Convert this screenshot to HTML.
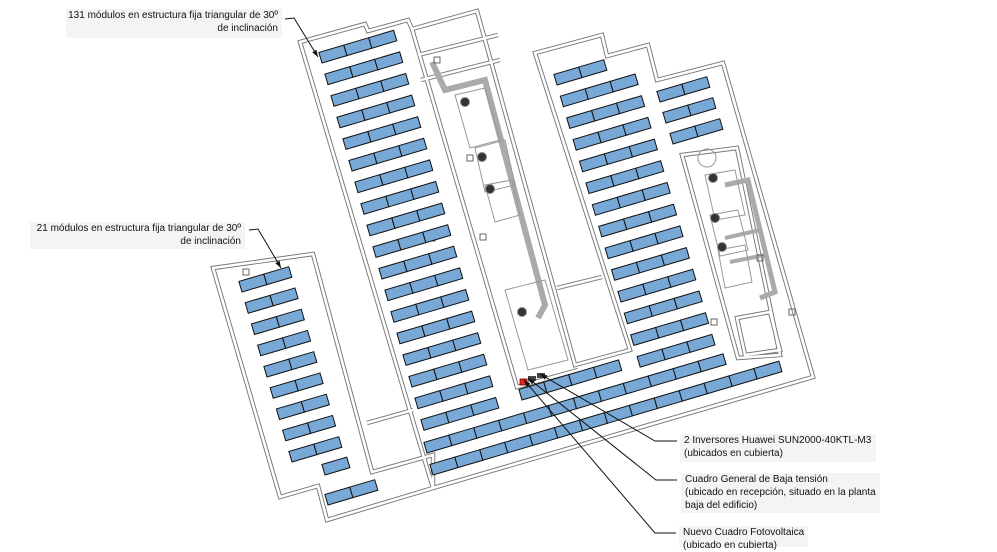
<!DOCTYPE html>
<html><head><meta charset="utf-8"><style>
html,body{margin:0;padding:0;background:#fff;}
body{width:997px;height:547px;overflow:hidden;position:relative;font-family:"Liberation Sans",sans-serif;}
svg{position:absolute;left:0;top:0;}
.lb{position:absolute;background:#f4f4f4;font-size:10px;line-height:13px;color:#111;white-space:nowrap;}
</style></head><body>
<svg id="s" width="997" height="547" viewBox="0 0 997 547" xmlns="http://www.w3.org/2000/svg">
<g fill="none" stroke-linejoin="miter">
<g id="walls" stroke="#777" stroke-width="4.5"></g>
<g id="walls2" stroke="#fff" stroke-width="2.6"></g>
</g>
<g id="equip"></g>
<g id="panels"></g>
<g id="leaders" stroke="#111" stroke-width="1" fill="none"></g>
</svg>
<div class="lb" style="left:66px;top:9px;width:212px;height:29px;text-align:right;padding-right:4px;">131 módulos en estructura fija triangular de 30º<br>de inclinación</div>
<div class="lb" style="left:30px;top:222px;width:211px;height:27px;text-align:right;padding-right:4px;">21 módulos en estructura fija triangular de 30º<br>de inclinación</div>
<div class="lb" style="left:680px;top:434px;width:192px;height:28px;padding-left:4px;">2 Inversores Huawei SUN2000-40KTL-M3<br>(ubicados en cubierta)</div>
<div class="lb" style="left:681px;top:473px;width:195px;height:40px;padding-left:4px;">Cuadro General de Baja tensión<br>(ubicado en recepción, situado en la planta<br>baja del edificio)</div>
<div class="lb" style="left:679px;top:526px;width:125px;height:21px;padding-left:4px;">Nuevo Cuadro Fotovoltaica<br>(ubicado en cubierta)</div>
<script>
var NS="http://www.w3.org/2000/svg";
function el(p,t,a){var e=document.createElementNS(NS,t);for(var k in a)e.setAttribute(k,a[k]);document.getElementById(p).appendChild(e);return e;}
var polys=[
"213,268 313,254 372,472 433,455 433,488 327,520 318,486 280,497",
"300,42 365,24 368,31 408,20 412,29 477,11 575,365 630,350 535,53 602,35 607,56 648,45 657,80 723,63 813,377 433,488",
"412,29 517,387 578,370",
"682,155 737,148 780,355 738,358",
"367,423 413,410",
"557,288 602,277",
"418,55 498,35",
"421,80 500,60",
"737,318 770,312 780,350 745,355"
];
polys.forEach(function(p){
 var closed=p.split(" ").length>3;
 el("walls",closed?"polygon":"polyline",{points:p});
 el("walls2",closed?"polygon":"polyline",{points:p});
});
el("equip","polyline",{points:"432,62 445,90 485,80 545,305 538,318",fill:"none",stroke:"#aaa","stroke-width":6});
el("equip","polyline",{points:"725,185 748,180 775,292 760,298",fill:"none",stroke:"#aaa","stroke-width":5});
el("equip","polyline",{points:"725,238 760,230",fill:"none",stroke:"#aaa","stroke-width":4});
el("equip","polyline",{points:"730,262 765,255",fill:"none",stroke:"#aaa","stroke-width":4});
[["455,95 485,88 500,140 470,148"],["475,148 505,140 515,185 485,192"],["485,185 512,180 520,215 495,222"],["505,290 545,280 568,360 528,370"],["705,175 735,170 745,215 715,220"],["710,215 738,210 748,250 720,256"],["718,250 745,245 752,282 725,288"]].forEach(function(p){
 el("equip","polygon",{points:p[0],fill:"none",stroke:"#999","stroke-width":1});
});
el("equip","circle",{cx:707,cy:158,r:9,fill:"none",stroke:"#999"});
[[465,102],[482,157],[490,189],[522,312],[713,178],[715,218],[722,247]].forEach(function(c){
 el("equip","circle",{cx:c[0],cy:c[1],r:4.5,fill:"#333",stroke:"#888","stroke-width":1});
});
[[246,272],[483,237],[432,238],[470,158],[627,152],[792,312],[760,258],[714,322],[437,60]].forEach(function(v){
 el("equip","rect",{x:v[0]-3,y:v[1]-3,width:6,height:6,fill:"none",stroke:"#666","stroke-width":1});
});
el("equip","rect",{x:520,y:379,width:7,height:6,fill:"#e22",stroke:"#600","stroke-width":0.8});
el("equip","rect",{x:528,y:376,width:8,height:5,fill:"#444"});
el("equip","rect",{x:537,y:373,width:8,height:5,fill:"#444"});
function row(bx,by,n){
 var g=el("panels","g",{transform:"translate("+bx+","+by+") rotate(-16.5)"});
 for(var i=0;i<n;i++){
  var r=document.createElementNS(NS,"rect");
  r.setAttribute("x",i*26);r.setAttribute("y",-11);r.setAttribute("width",26);r.setAttribute("height",11);
  r.setAttribute("fill","#78a8d6");r.setAttribute("stroke","#111");r.setAttribute("stroke-width","1");
  g.appendChild(r);
 }
}
for(var i=0;i<18;i++) row(322+i*6.0,63+i*21.6,3);
row(427,453,12);
row(433,475,14);
row(522,400,4);
row(557,85,2);
for(var i=1;i<14;i++) row(557+i*6.4,85+i*21.7,3);
row(660,102,2);row(666,123,2);row(673,144,2);
for(var i=0;i<9;i++) row(242+i*6.25,292+i*21.25,2);
row(325,475,1);
row(328,505,2);
function lead(pts,ax,ay,bx,by){
 el("leaders","polyline",{points:pts});
 var a=Math.atan2(ay-by,ax-bx),L=7,w=2.5;
 var p1=[ax-L*Math.cos(a)+w*Math.sin(a),ay-L*Math.sin(a)-w*Math.cos(a)];
 var p2=[ax-L*Math.cos(a)-w*Math.sin(a),ay-L*Math.sin(a)+w*Math.cos(a)];
 el("leaders","polygon",{points:ax+","+ay+" "+p1.join(",")+" "+p2.join(","),fill:"#111",stroke:"none"});
}
lead("285,19 294,18 318,57",318,57,294,18);
lead("249,230 258,229 281,268",281,268,258,229);
lead("677,441 655,441 540,374",540,374,655,441);
lead("677,480 656,480 528,378",528,378,656,480);
lead("676,533 655,533 524,380",524,380,655,533);
</script>
</body></html>
